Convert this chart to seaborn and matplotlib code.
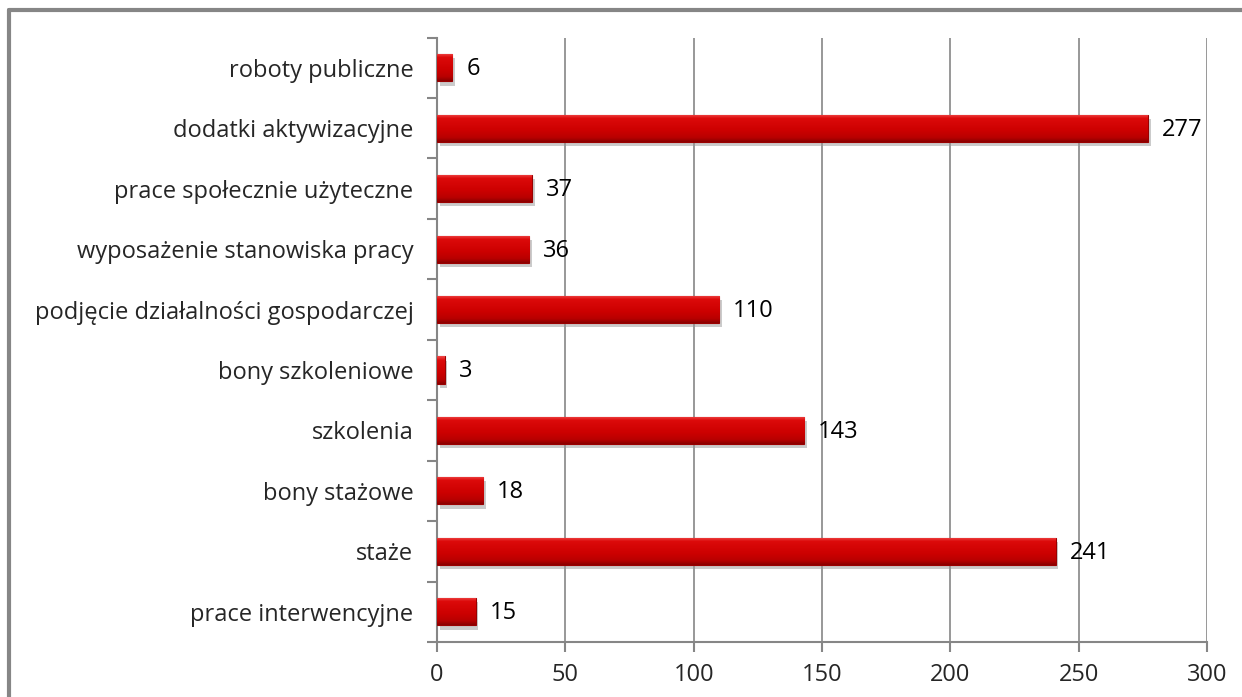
import numpy as np
import pandas as pd
import matplotlib
matplotlib.use("Agg")
import matplotlib.pyplot as plt
import matplotlib.patheffects as pe
from matplotlib.lines import Line2D
from matplotlib.ticker import FixedLocator
import seaborn as sns

categories = ["roboty publiczne", "dodatki aktywizacyjne", "prace społecznie użyteczne",
              "wyposażenie stanowiska pracy", "podjęcie działalności gospodarczej",
              "bony szkoleniowe", "szkolenia", "bony stażowe", "staże", "prace interwencyjne"]
values = [6, 277, 37, 36, 110, 3, 143, 18, 241, 15]
x_ticks = [0, 50, 100, 150, 200, 250, 300]

sns.set_theme(style="white")
plt.rcParams['font.family'] = ['Open Sans', 'DejaVu Sans']

df = pd.DataFrame({"cat": categories, "val": values})
fig = plt.figure(figsize=(12.42, 6.97), dpi=100)
ax = fig.add_axes([437/1242, 1-642/697, (1207-437)/1242, (642-37.6)/697])

GRAY = "#868686"
FS = 17
sns.barplot(data=df, x="val", y="cat", orient="h", color="#cc0000", width=0.45,
            edgecolor="#9a0000", linewidth=0.8, saturation=1, ax=ax, zorder=3)

# gradient bevel on bars
grad = np.linspace(0, 1, 100).reshape(-1, 1)
cmap = matplotlib.colors.LinearSegmentedColormap.from_list(
    "bev", [(0, "#f04848"), (0.15, "#dc0a0a"), (0.6, "#cc0000"), (0.85, "#b80000"), (1, "#8a0000")])
for p in ax.patches:
    p.set_path_effects([pe.SimplePatchShadow(offset=(2, -3), shadow_rgbFace="#999999", alpha=0.5), pe.Normal()])
    b = p.get_bbox()
    im = ax.imshow(grad, extent=[b.x0, b.x1, b.y1, b.y0], cmap=cmap, aspect="auto", zorder=3.5,
                   origin="upper")
    im.set_clip_path(p)

for i, v in enumerate(values):
    ax.annotate(str(v), (v, i), xytext=(10, -1), textcoords="offset points",
                ha="left", va="center", fontsize=FS, color="black", zorder=5)

ax.set_xlim(0, 300)
ax.set_ylim(len(categories) - 0.5, -0.5)
ax.xaxis.set_major_locator(FixedLocator(x_ticks))
ax.set_xlabel("")
ax.set_ylabel("")
ax.grid(axis="x", color=GRAY, linewidth=1.2, zorder=0)
ax.set_axisbelow(True)
for s in ["top", "right"]:
    ax.spines[s].set_visible(False)
for s in ["left", "bottom"]:
    ax.spines[s].set_color(GRAY)
    ax.spines[s].set_linewidth(1.5)

ax.tick_params(axis="x", which="major", length=7, width=1.5, color=GRAY, pad=8,
               labelsize=FS, bottom=True)
ax.tick_params(axis="y", which="major", length=0, pad=17, labelsize=FS, left=True)
ax.yaxis.set_minor_locator(FixedLocator(np.arange(-0.5, len(categories), 1.0)))
ax.tick_params(axis="y", which="minor", length=7, width=1.5, color=GRAY, left=True)

# figure border (left and top)
fig.add_artist(Line2D([9/1242, 9/1242], [0, 1-10/697], transform=fig.transFigure, color=GRAY, lw=3))
fig.add_artist(Line2D([9/1242, 1], [1-10/697, 1-10/697], transform=fig.transFigure, color=GRAY, lw=3))

fig.savefig("out.png", dpi=100, facecolor="white")
